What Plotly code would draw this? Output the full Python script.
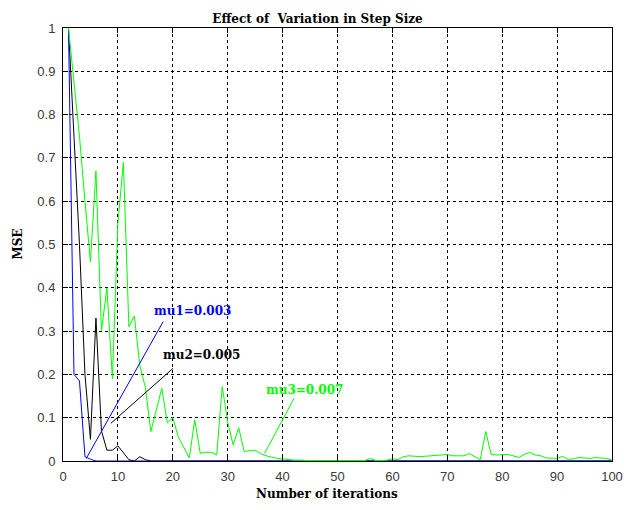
import plotly.graph_objects as go

# Iteration index
iterations = list(range(1, 101))

# MSE for step size mu1 = 0.003
mse_mu1 = [1.0, 0.2, 0.185, 0.01, 0.004] + [0.0] * 95

# MSE for step size mu2 = 0.005
mse_mu2 = [1.0, 0.75, 0.5, 0.2, 0.05, 0.33, 0.07, 0.025, 0.025, 0.035,
           0.02, 0.003, 0.0, 0.01, 0.003] + [0.0] * 85

# MSE for step size mu3 = 0.007
mse_mu3 = [1.0, 0.87, 0.75, 0.6, 0.46, 0.67, 0.3, 0.4, 0.19, 0.55,
           0.69, 0.31, 0.335, 0.22, 0.17, 0.068, 0.12, 0.168, 0.088, 0.1,
           0.056, 0.03, 0.007, 0.095, 0.018, 0.02, 0.02, 0.014, 0.172, 0.09,
           0.037, 0.077, 0.022, 0.024, 0.025, 0.017, 0.012, 0.009, 0.006, 0.005,
           0.003, 0.002, 0.002, 0.001, 0.001, 0.001, 0.001, 0.001, 0.001, 0.001,
           0.001, 0.001, 0.001, 0.001, 0.001, 0.006, 0.001, 0.001, 0.002, 0.005,
           0.003, 0.01, 0.012, 0.011, 0.01, 0.011, 0.012, 0.012, 0.014, 0.015,
           0.012, 0.012, 0.012, 0.017, 0.01, 0.003, 0.068, 0.015, 0.014, 0.014,
           0.015, 0.012, 0.008, 0.015, 0.02, 0.014, 0.012, 0.007, 0.006, 0.006,
           0.011, 0.004, 0.005, 0.008, 0.007, 0.006, 0.008, 0.007, 0.006, 0.002]

# Labels: (text, colour, text x, text y, leader start x, y, leader end x, y)
labels = [
    ("mu1=0.003", "#0000ff", 16.2, 0.346, 4.24, 0.006, 18.25, 0.322),
    ("mu2=0.005", "#000000", 17.8, 0.245, 8.71, 0.087, 20.04, 0.214),
    ("mu3=0.007", "#00ff00", 36.7, 0.164, 36.73, 0.018, 42.1, 0.145),
]

x_ticks = list(range(0, 101, 10))
y_ticks = [round(i * 0.1, 1) for i in range(11)]

serif = "DejaVu Serif"
sans = "Liberation Sans, Arial, sans-serif"

fig = go.Figure()
fig.add_trace(go.Scatter(x=iterations, y=mse_mu2, mode="lines",
                         line=dict(color="#000000", width=1), name="mu2"))
fig.add_trace(go.Scatter(x=iterations, y=mse_mu1, mode="lines",
                         line=dict(color="#0000ff", width=1), name="mu1"))
fig.add_trace(go.Scatter(x=iterations, y=mse_mu3, mode="lines",
                         line=dict(color="#00ff00", width=1), name="mu3"))

for text, colour, tx, ty, x0, y0, x1, y1 in labels:
    fig.add_shape(type="line", xref="x", yref="y", x0=x0, y0=y0, x1=x1, y1=y1,
                  line=dict(color=colour, width=1))
    fig.add_annotation(x=tx, y=ty, xref="x", yref="y", text="<b>%s</b>" % text,
                       showarrow=False, xanchor="left", yanchor="middle",
                       font=dict(family=serif, size=12, color=colour))

axis_common = dict(
    showline=True, linecolor="#000000", linewidth=1, mirror="ticks",
    ticks="inside", ticklen=5, tickcolor="#000000", tickwidth=1,
    showgrid=True, gridcolor="#000000", gridwidth=1, griddash="3px,3px",
    zeroline=False, tickfont=dict(family=sans, size=13, color="#3a3a3a"),
)

fig.update_xaxes(range=[0, 100], tickvals=x_ticks, ticklabelstandoff=3,
                 **axis_common)
fig.update_yaxes(range=[0, 1], tickvals=y_ticks, ticklabelstandoff=4,
                 **axis_common)

fig.add_annotation(x=0.481, y=-0.077, xref="paper", yref="paper",
                   text="<b>Number of iterations</b>", showarrow=False,
                   xanchor="center", yanchor="middle",
                   font=dict(family=serif, size=12, color="#000000"))
fig.add_annotation(x=-0.081, y=0.501, xref="paper", yref="paper",
                   text="<b>MSE</b>", showarrow=False, textangle=-90,
                   xanchor="center", yanchor="middle",
                   font=dict(family=serif, size=12, color="#000000"))

fig.update_layout(
    width=635, height=510,
    margin=dict(l=63, r=13, t=28, b=49),
    paper_bgcolor="#ffffff", plot_bgcolor="#ffffff",
    showlegend=False,
    title=dict(text="<b>Effect of\u00a0 Variation in Step Size</b>",
               x=0.5, xref="container", xanchor="center",
               y=1 - 18.6 / 510, yref="container", yanchor="middle",
               font=dict(family=serif, size=12, color="#000000")),
)

fig.write_html("out.html")
